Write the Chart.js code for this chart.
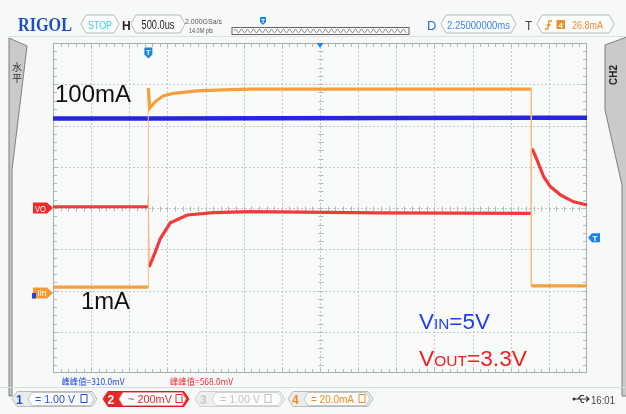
<!DOCTYPE html>
<html><head><meta charset="utf-8">
<script src="https://cdn.jsdelivr.net/npm/chart.js@4"></script>
<style>
html,body{margin:0;padding:0;background:#f6f9f7;}
#wrap{position:relative;width:626px;height:414px;overflow:hidden;background:#f6f9f7;}
#c{position:absolute;left:0;top:0;}
#ov{position:absolute;left:0;top:0;pointer-events:none;}
</style></head><body>
<div id="wrap">
<canvas id="c" width="626" height="414"></canvas>
<svg id="ov" width="626" height="414" xmlns="http://www.w3.org/2000/svg" font-family="Liberation Sans, Arial, sans-serif"></svg>
</div>
<script>
// ---- data (x: time in ms, trigger at 0, 500us/div; y: screen divisions) ----
const TIME_MIN = -1.25, TIME_MAX = 5.75;
const DIV_MIN = -4, DIV_MAX = 4;
const vinTime = [-1.25, 0, 5.02, 5.75];
const vinDiv  = [2.17, 2.17, 2.19, 2.19];
const iinTime = [-1.25, 0, 0, 0.017, 0.092, 0.197, 0.328, 0.642, 1.075, 1.337, 3.0, 5.02, 5.02, 5.75];
const iinDiv  = [-1.92, -1.92, 2.91, 2.42, 2.58, 2.72, 2.78, 2.84, 2.87, 2.88, 2.88, 2.88, -1.89, -1.89];
const voTime  = [-1.25, 0, 0, 0.01, 0.09, 0.157, 0.288, 0.511, 0.852, 1.337, 3.0, 5.02, 5.02, 5.038, 5.096, 5.182, 5.27, 5.401, 5.575, 5.759];
const voDiv   = [0.03, 0.03, 0.27, -1.43, -1.07, -0.74, -0.36, -0.17, -0.11, -0.09, -0.12, -0.13, 1.41, 1.41, 1.16, 0.76, 0.52, 0.32, 0.15, 0.07];
const voRef = 0, iinRef = -2.06, trigLevel = -0.72, trigTime = 0, delayTime = 2.25;

const mk = (t, v) => t.map((x, i) => ({x, y: v[i]}));
const thinOr = (a, b) => ctx => Math.abs(ctx.p1.x - ctx.p0.x) < 1 ? b : a;

const gridPlugin = {
  id: 'scopeGrid',
  beforeDatasetsDraw(chart) {
    const {ctx, chartArea: a, scales: {x: xs, y: ys}} = chart;
    ctx.save();
    ctx.fillStyle = '#f9fbfa';
    ctx.fillRect(a.left, a.top, a.right - a.left, a.bottom - a.top);
    ctx.strokeStyle = '#c3c7c5'; ctx.lineWidth = 1; ctx.setLineDash([2, 2]);
    for (let k = 1; k < 14; k++) {
      const p = Math.round(xs.getPixelForValue(TIME_MIN + k * 0.5)) + 0.5;
      ctx.beginPath(); ctx.moveTo(p, a.top); ctx.lineTo(p, a.bottom); ctx.stroke();
    }
    for (let k = 1; k < 8; k++) {
      const p = Math.round(ys.getPixelForValue(DIV_MIN + k)) + 0.5;
      ctx.beginPath(); ctx.moveTo(a.left, p); ctx.lineTo(a.right, p); ctx.stroke();
    }
    ctx.setLineDash([]);
    ctx.strokeStyle = '#b4b8b6';
    const cx = Math.round(xs.getPixelForValue((TIME_MIN + TIME_MAX) / 2)) + 0.5;
    const cy = Math.round(ys.getPixelForValue(0)) + 0.5;
    ctx.beginPath();
    for (let k = 1; k < 70; k++) {
      const p = Math.round(xs.getPixelForValue(TIME_MIN + k * 0.1)) + 0.5;
      ctx.moveTo(p, a.top); ctx.lineTo(p, a.top + 4);
      ctx.moveTo(p, a.bottom); ctx.lineTo(p, a.bottom - 4);
      ctx.moveTo(p, cy - 2); ctx.lineTo(p, cy + 3);
    }
    for (let k = 1; k < 40; k++) {
      const p = Math.round(ys.getPixelForValue(DIV_MIN + k * 0.2)) + 0.5;
      ctx.moveTo(a.left, p); ctx.lineTo(a.left + 4, p);
      ctx.moveTo(a.right, p); ctx.lineTo(a.right - 4, p);
      ctx.moveTo(cx - 2, p); ctx.lineTo(cx + 3, p);
    }
    ctx.stroke();
    ctx.strokeStyle = '#a9adab';
    ctx.strokeRect(Math.round(a.left) + 0.5, Math.round(a.top) + 0.5, Math.round(a.right - a.left) - 1, Math.round(a.bottom - a.top) - 1);
    ctx.restore();
  }
};

const chart = new Chart(document.getElementById('c'), {
  type: 'line',
  data: {datasets: [
    {label: 'Iin', data: mk(iinTime, iinDiv), borderColor: '#f5a03c', borderWidth: 3.2, order: 0,
     segment: {borderWidth: thinOr(3.2, 1), borderColor: thinOr('#f5a03c', '#f8bd7c')}},
    {label: 'VO', data: mk(voTime, voDiv), borderColor: '#ef3b3b', borderWidth: 3.2, order: 1,
     segment: {borderWidth: thinOr(3.2, 1), borderColor: thinOr('#ef3b3b', '#f78080')}},
    {label: 'VIN', data: mk(vinTime, vinDiv), borderColor: '#2626e0', borderWidth: 4.5, order: 2}
  ]},
  options: {
    responsive: false, animation: false, events: [],
    layout: {padding: {left: 53, top: 43, right: 39, bottom: 41}},
    elements: {point: {radius: 0}, line: {tension: 0, fill: false}},
    plugins: {legend: {display: false}, tooltip: {enabled: false}},
    scales: {
      x: {type: 'linear', min: TIME_MIN, max: TIME_MAX, display: false},
      y: {type: 'linear', min: DIV_MIN, max: DIV_MAX, display: false}
    }
  },
  plugins: [gridPlugin]
});

// ---- overlay (real SVG text) ----
const NS = 'http://www.w3.org/2000/svg';
const svg = document.getElementById('ov');
function el(tag, attrs, text, parent) {
  const e = document.createElementNS(NS, tag);
  for (const k in attrs) e.setAttribute(k, attrs[k]);
  if (text != null) e.textContent = text;
  (parent || svg).appendChild(e);
  return e;
}
function chev(x1, y1, x2, y2, d, fill, stroke, parent) {
  const ym = (y1 + y2) / 2;
  return el('path', {d: `M${x1+d},${y1} L${x2-d},${y1} L${x2},${ym} L${x2-d},${y2} L${x1+d},${y2} L${x1},${ym} Z`, fill, stroke, 'stroke-width': 1}, null, parent);
}
// side tabs
el('path', {d: 'M9,38 L27,46 L12,170 L12,396 L9,396 Z', fill: '#c9cbca', stroke: '#7d7f7e', 'stroke-width': 1});
el('text', {x: 17, y: 71, 'font-size': 10, 'text-anchor': 'middle', fill: '#333', 'font-family': 'Noto Sans CJK SC'}, '水');
el('text', {x: 17, y: 82, 'font-size': 10, 'text-anchor': 'middle', fill: '#333', 'font-family': 'Noto Sans CJK SC'}, '平');
el('path', {d: 'M605,45 L627,37 L627,396 L622,396 L622,185 L605,110 Z', fill: '#c9cbca', stroke: '#7d7f7e', 'stroke-width': 1});
el('text', {x: 0, y: 0, 'font-size': 10, 'font-weight': 'bold', 'text-anchor': 'middle', fill: '#222', transform: 'translate(617,75) rotate(-90)'}, 'CH2');

// header
el('line', {x1: 8, y1: 36.5, x2: 626, y2: 36.5, stroke: '#dde1de'});
el('text', {x: 18, y: 31, 'font-family': 'Liberation Serif', 'font-weight': 'bold', 'font-size': 18, fill: '#1d4fc4', textLength: 54, lengthAdjust: 'spacingAndGlyphs'}, 'RIGOL');
chev(81, 15, 119, 33, 5, '#fbfdfc', '#b5b9b7');
el('text', {x: 88, y: 28.5, 'font-size': 11, fill: '#3ccbe0', textLength: 24, lengthAdjust: 'spacingAndGlyphs'}, 'STOP');
el('text', {x: 122, y: 29.5, 'font-size': 12, 'font-weight': 'bold', fill: '#222'}, 'H');
chev(131, 15, 185, 33, 5, '#fbfdfc', '#b5b9b7');
el('text', {x: 141.5, y: 29, 'font-size': 12, fill: '#222', textLength: 33, lengthAdjust: 'spacingAndGlyphs'}, '500.0us');
el('text', {x: 185, y: 24, 'font-size': 7, fill: '#555', textLength: 37, lengthAdjust: 'spacingAndGlyphs'}, '2.000GSa/s');
el('text', {x: 189, y: 32.5, 'font-size': 7, fill: '#555', textLength: 24, lengthAdjust: 'spacingAndGlyphs'}, '14.0M pts');
el('rect', {x: 232, y: 27.5, width: 177, height: 7, fill: 'none', stroke: '#666'});
let zz = 'M234,31';
for (let xx = 235.5, up = true; xx < 408; xx += 3, up = !up) zz += ` L${xx},${up ? 29 : 33}`;
el('path', {d: zz, fill: 'none', stroke: '#777', 'stroke-width': 0.8});
el('path', {d: 'M260,17 L266,17 L266,22 L263,25 L260,22 Z', fill: '#1b84e8'});
el('text', {x: 263, y: 22.5, 'font-size': 6, 'font-weight': 'bold', 'text-anchor': 'middle', fill: '#fff'}, 'T');
el('text', {x: 427, y: 30, 'font-size': 13, fill: '#2a6ae0'}, 'D');
chev(441, 15, 516, 33, 5, '#fbfdfc', '#b5b9b7');
el('text', {x: 447, y: 28.5, 'font-size': 11, fill: '#3c82e6', textLength: 63, lengthAdjust: 'spacingAndGlyphs'}, '2.25000000ms');
el('text', {x: 525, y: 30, 'font-size': 12, fill: '#444'}, 'T');
chev(537, 15, 614, 33, 5, '#fbfdfc', '#b5b9b7');
el('path', {d: 'M545,29 L548,29 L549,21 L552,21 M546.5,25 L550.5,25', fill: 'none', stroke: '#f08c28', 'stroke-width': 1.3});
el('rect', {x: 556.5, y: 20, width: 8.5, height: 9, fill: '#f08c28'});
el('text', {x: 560.7, y: 27.5, 'font-size': 8, 'font-weight': 'bold', 'text-anchor': 'middle', fill: '#fff'}, '4');
el('text', {x: 572, y: 28.5, 'font-size': 11, fill: '#f08c28', textLength: 31, lengthAdjust: 'spacingAndGlyphs'}, '26.8mA');

// plot annotations
el('text', {x: 55, y: 102, 'font-size': 23, fill: '#111', textLength: 76, lengthAdjust: 'spacingAndGlyphs'}, '100mA');
el('text', {x: 81, y: 309, 'font-size': 23, fill: '#111', textLength: 49, lengthAdjust: 'spacingAndGlyphs'}, '1mA');
const vin = el('text', {x: 419, y: 329, 'font-size': 22, fill: '#1e3cf0', textLength: 71, lengthAdjust: 'spacingAndGlyphs'});
el('tspan', {}, 'V', vin); el('tspan', {'font-size': 15}, 'IN', vin); el('tspan', {}, '=5V', vin);
const vout = el('text', {x: 419, y: 366, 'font-size': 22, fill: '#f01e1e', textLength: 108, lengthAdjust: 'spacingAndGlyphs'});
el('tspan', {}, 'V', vout); el('tspan', {'font-size': 15}, 'OUT', vout); el('tspan', {}, '=3.3V', vout);

// bottom
el('text', {x: 61.5, y: 385, 'font-size': 9, fill: '#2346e0', 'font-family': 'Noto Sans CJK SC', textLength: 63, lengthAdjust: 'spacingAndGlyphs'}, '峰峰值=310.0mV');
el('text', {x: 170, y: 385, 'font-size': 9, fill: '#e83030', 'font-family': 'Noto Sans CJK SC', textLength: 63, lengthAdjust: 'spacingAndGlyphs'}, '峰峰值=568.0mV');
el('line', {x1: 0, y1: 387.5, x2: 626, y2: 387.5, stroke: '#d8dcd9'});
// CH1
chev(12, 391.5, 97, 406.5, 5, '#e9ecea', '#b8bcba');
el('text', {x: 16, y: 403.5, 'font-size': 12, 'font-weight': 'bold', fill: '#2346e0'}, '1');
chev(28, 392.5, 94, 405.5, 4, '#fbfdfc', '#c2c6c4');
el('text', {x: 35, y: 403, 'font-size': 11, fill: '#2d4fe0', textLength: 40, lengthAdjust: 'spacingAndGlyphs'}, '= 1.00 V');
el('rect', {x: 81, y: 394.5, width: 6, height: 8, fill: 'none', stroke: '#2d4fe0'});
// CH2
chev(103, 391.5, 189, 406.5, 5, '#e82828', '#d02020');
el('text', {x: 107.5, y: 403.5, 'font-size': 12, 'font-weight': 'bold', fill: '#fff'}, '2');
chev(119, 392.5, 186, 405.5, 4, '#ffffff', '#f0a0a0');
el('text', {x: 128, y: 403, 'font-size': 11, fill: '#e82828', textLength: 44, lengthAdjust: 'spacingAndGlyphs'}, '~ 200mV');
el('rect', {x: 176, y: 394.5, width: 6, height: 8, fill: 'none', stroke: '#e82828'});
// CH3
chev(195, 391.5, 285, 406.5, 5, '#eef0ef', '#cdd0ce');
el('text', {x: 200, y: 403.5, 'font-size': 12, 'font-weight': 'bold', fill: '#c4c7c5'}, '3');
chev(212, 392.5, 282, 405.5, 4, '#fbfdfc', '#d2d5d3');
el('text', {x: 220, y: 403, 'font-size': 11, fill: '#c0c3c1', textLength: 40, lengthAdjust: 'spacingAndGlyphs'}, '= 1.00 V');
el('rect', {x: 265, y: 394.5, width: 6, height: 8, fill: 'none', stroke: '#c0c3c1'});
// CH4
chev(288, 391.5, 373, 406.5, 5, '#e9ecea', '#b8bcba');
el('text', {x: 292, y: 403.5, 'font-size': 12, 'font-weight': 'bold', fill: '#f08c28'}, '4');
chev(304, 392.5, 370, 405.5, 4, '#fbfdfc', '#c2c6c4');
el('text', {x: 311, y: 403, 'font-size': 11, fill: '#f08c28', textLength: 43, lengthAdjust: 'spacingAndGlyphs'}, '= 20.0mA');
el('rect', {x: 359, y: 394.5, width: 6, height: 8, fill: 'none', stroke: '#f08c28'});
// usb + time
el('path', {d: 'M574,399 L588,399 M586,396.5 L589,399 L586,401.5 M578,399 L581,395.5 L584,395.5 M580,399 L582,402.5 L584,402.5', fill: 'none', stroke: '#333', 'stroke-width': 1.2});
el('circle', {cx: 574, cy: 399, r: 1.5, fill: '#333'});
el('text', {x: 591, y: 403.5, 'font-size': 10, fill: '#444', textLength: 24, lengthAdjust: 'spacingAndGlyphs'}, '16:01');

// level / trigger markers positioned from the chart's scales
const xs = chart.scales.x, ys = chart.scales.y;
const gVO = el('g', {transform: `translate(0,${ys.getPixelForValue(voRef)})`});
el('path', {d: 'M33,-5.5 L47,-5.5 L53,0 L47,5.5 L33,5.5 Z', fill: '#ee2a2a'}, null, gVO);
el('text', {x: 35, y: 3.5, 'font-size': 9, fill: '#fff', textLength: 11, lengthAdjust: 'spacingAndGlyphs'}, 'VO', gVO);
const gI = el('g', {transform: `translate(0,${ys.getPixelForValue(iinRef)})`});
el('path', {d: 'M33,-5.5 L47,-5.5 L53,0 L47,5.5 L33,5.5 Z', fill: '#f39a34'}, null, gI);
el('rect', {x: 32, y: 0, width: 4, height: 5.5, fill: '#2346e0'}, null, gI);
el('text', {x: 37.5, y: 3.5, 'font-size': 9, fill: '#fff', textLength: 9, lengthAdjust: 'spacingAndGlyphs'}, 'Iin', gI);
const gT = el('g', {transform: `translate(0,${ys.getPixelForValue(trigLevel)})`});
el('path', {d: 'M588,0 L592,-4.5 L600,-4.5 L600,4.5 L592,4.5 Z', fill: '#1b84e8'}, null, gT);
el('text', {x: 595, y: 3.2, 'font-size': 8, 'font-weight': 'bold', 'text-anchor': 'middle', fill: '#fff'}, 'T', gT);
const gTT = el('g', {transform: `translate(${xs.getPixelForValue(trigTime)},0)`});
el('path', {d: 'M-4,47.5 L4,47.5 L4,54.5 L0,58.5 L-4,54.5 Z', fill: '#1b84e8'}, null, gTT);
el('text', {x: 0, y: 54.5, 'font-size': 7.5, 'font-weight': 'bold', 'text-anchor': 'middle', fill: '#fff'}, 'T', gTT);
const gD = el('g', {transform: `translate(${xs.getPixelForValue(delayTime)},0)`});
el('path', {d: 'M-3.5,43 L3.5,43 L0,48 Z', fill: '#1b84e8'}, null, gD);
</script>
</body></html>
